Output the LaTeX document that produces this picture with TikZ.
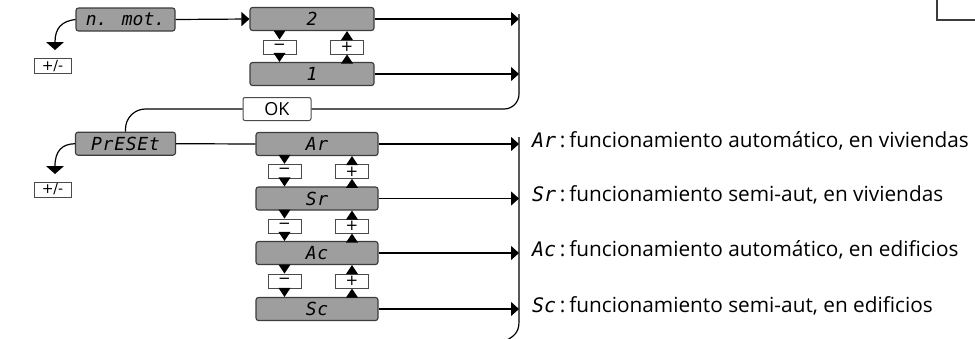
\documentclass[tikz,border=0pt]{standalone}
\usepackage{fontspec}
\setmainfont{Open Sans}
\newfontfamily\segfont{DejaVu Sans Mono}
\newfontfamily\btnfont{DejaVu Sans}
\usetikzlibrary{arrows.meta,calc}
\definecolor{dispgray}{HTML}{9E9E9E}
\definecolor{bordergray}{HTML}{3C3C3C}
\definecolor{btngray}{HTML}{4A4A4A}
\newcommand{\segtxt}[1]{{\segfont\itshape\addfontfeature{LetterSpace=4}#1}}
\newcommand{\seglab}[1]{{\segfont\itshape\fontsize{20}{20}\selectfont#1}}
\tikzset{
  disp/.style={draw=bordergray, fill=dispgray, rounded corners=2.5pt, line width=1.1pt,
    minimum height=23pt, inner sep=0pt, font=\fontsize{18}{18}\selectfont},
  btn/.style={draw=btngray, fill=white, line width=1pt, minimum width=33pt,
    minimum height=14pt, inner sep=0pt, font=\btnfont\fontsize{15}{15}\selectfont},
  pmbtn/.style={btn, minimum width=37pt, minimum height=15pt, font=\btnfont\fontsize{14}{14}\selectfont},
  okbtn/.style={btn, rounded corners=2pt, minimum width=68pt, minimum height=23pt,
    font=\rmfamily\fontsize{18}{18}\selectfont},
  conn/.style={line width=1.2pt, black},
  arr/.style={conn, -{Triangle[length=8pt,width=14pt]}},
  desc/.style={anchor=base west, inner sep=0pt, font=\fontsize{20.8}{21}\selectfont},
  tridn/.pic={\fill (-6,-9) -- (6,-9) -- (0,0) -- cycle;},
  triup/.pic={\fill (-6,9) -- (6,9) -- (0,0) -- cycle;},
  bigtri/.pic={\fill (-9,-8) -- (9,-8) -- (0,0) -- cycle;},
}
\begin{document}
\begin{tikzpicture}[x=1pt, y=-1pt]
\useasboundingbox (0,0) rectangle (975,338);
% top-right fragment
\draw[line width=2pt, bordergray] (937,-3) -- (937,20) -- (978,20);

% ---- n. mot. section
\node[disp, minimum width=99pt] (nmot) at (125.5,19.5) {{\segfont\itshape n. mot.}};
\node[disp, minimum width=124pt] (d2) at (312,19) {\segtxt{2}};
\node[disp, minimum width=124pt] (d1) at (312,74) {\segtxt{1}};
\node[btn] (m0) at (279.5,47) {−};
\node[btn] (p0) at (347,47) {+};
\node[pmbtn] (pmA) at (52.5,66) {+/-};
\coordinate (tA) at (55,50);

\draw[conn] (nmot.west) .. controls (62,21) and (55,28) .. ($(tA)+(0,-8)$);
\pic at (tA) {bigtri};
\draw[arr] (nmot.east) -- (d2.west);
\pic at (m0.north) {tridn};
\pic at (d1.north -| m0) {tridn};
\pic at (d2.south -| p0) {triup};
\pic at (p0.south) {triup};

\coordinate (v1) at (519,14);
\draw[arr] (d2.east) -- (d2.east -| v1);
\draw[arr] (d1.east) -- (d1.east -| v1);

\node[okbtn] (ok) at (277,109) {OK};
\draw[conn, rounded corners=15pt] (v1) -- (ok.east -| v1) -- (ok.east);

% ---- PrESEt section
\node[disp, minimum width=100pt] (preset) at (125.5,143.7) {\segtxt{PrESEt}};
\draw[conn, rounded corners=20pt] (ok.west) -- (ok.west -| preset.north) -- (preset.north);
\node[pmbtn] (pmB) at (52.5,189.5) {+/-};
\coordinate (tB) at (55,174);
\draw[conn] (preset.west) .. controls (62,144) and (55,151) .. ($(tB)+(0,-8)$);
\pic at (tB) {bigtri};

\node[disp, minimum width=122pt] (Ar) at (317,144) {\segtxt{Ar}};
\node[disp, minimum width=122pt] (Sr) at (317,198.5) {\segtxt{Sr}};
\node[disp, minimum width=122pt] (Ac) at (317,253) {\segtxt{Ac}};
\node[disp, minimum width=122pt] (Sc) at (317,309) {\segtxt{Sc}};
\draw[conn] (preset.east) -- (Ar.west);

\node[btn] (m1) at (284.5,171.3) {−};
\node[btn] (p1) at (352,171.3) {+};
\node[btn] (m2) at (284.5,226) {−};
\node[btn] (p2) at (352,226) {+};
\node[btn] (m3) at (284.5,281) {−};
\node[btn] (p3) at (352,281) {+};

\foreach \a/\m/\p/\b in {Ar/m1/p1/Sr, Sr/m2/p2/Ac, Ac/m3/p3/Sc}{
  \pic at (\m.north) {tridn};
  \pic at (\b.north -| \m) {tridn};
  \pic at (\a.south -| \p) {triup};
  \pic at (\p.south) {triup};
}

\coordinate (v2) at (519,137);
\foreach \n in {Ar,Sr,Ac,Sc}{
  \draw[arr] (\n.east) -- (\n.east -| v2);
}
\draw[conn] (v2) -- (519,322) .. controls (519,333) and (513,337) .. (505,341);

\node[desc] (tAr) at (532,147) {\seglab{Ar}\,:\hspace{4pt}funcionamiento automático, en viviendas};
\node[desc] (tSr) at (532,201.5) {\seglab{Sr}\,:\hspace{4pt}funcionamiento semi-aut, en viviendas};
\node[desc] (tAc) at (532,256) {\seglab{Ac}\,:\hspace{4pt}funcionamiento automático, en edificios};
\node[desc] (tSc) at (532,312) {\seglab{Sc}\,:\hspace{4pt}funcionamiento semi-aut, en edificios};
\end{tikzpicture}
\end{document}
